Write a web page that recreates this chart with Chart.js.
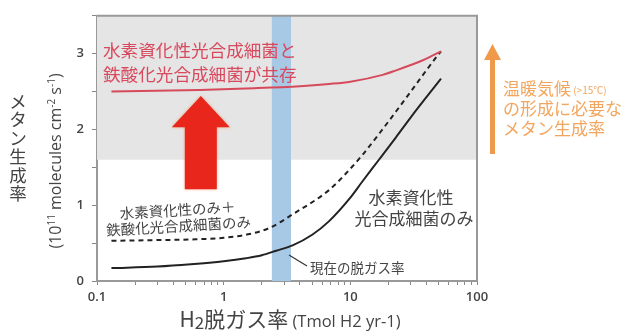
<!DOCTYPE html>
<html>
<head>
<meta charset="utf-8">
<script src="https://cdn.jsdelivr.net/npm/chart.js@4/dist/chart.umd.min.js"></script>
<style>
  html, body { margin: 0; padding: 0; background: #fff; }
  #wrap { width: 627px; height: 336px; }
</style>
</head>
<body>
<div id="wrap"><canvas id="c" width="627" height="336"></canvas></div>
<script>
// H2 outgassing rate (Tmol H2 / yr) vs. methane production rate (1e11 molecules cm^-2 s^-1)
const xTickValues = [0.1, 0.2, 0.3, 0.4, 0.5, 0.6, 0.7, 0.8, 0.9,
                     1, 2, 3, 4, 5, 6, 7, 8, 9,
                     10, 20, 30, 40, 50, 60, 70, 80, 90, 100];
const xTickLabels = ['0.1', '1', '10', '100'];

// H2-using photosynthetic bacteria only
const h2OnlyX = [0.13, 0.3, 0.55, 1.0, 1.5, 2.0, 2.6, 3.5, 5.0, 6.8, 10, 12.4, 17, 23, 30, 52];
const h2OnlyY = [0.17, 0.19, 0.22, 0.26, 0.30, 0.34, 0.40, 0.47, 0.61, 0.79, 1.10, 1.31, 1.61, 1.90, 2.16, 2.67];

// H2-using only + Fe-oxidizing only
const separateX = [0.13, 0.3, 0.6, 1.0, 1.6, 2.3, 3.5, 6.8, 9, 12.4, 17, 23, 30, 47, 52];
const separateY = [0.53, 0.54, 0.55, 0.57, 0.62, 0.70, 0.88, 1.20, 1.40, 1.66, 1.95, 2.24, 2.50, 2.94, 3.03];

// both groups coexisting
const coexistX = [0.13, 0.65, 1.5, 4, 6.8, 10, 18, 23, 30, 37, 44, 52];
const coexistY = [2.50, 2.52, 2.54, 2.57, 2.60, 2.63, 2.72, 2.78, 2.85, 2.91, 2.97, 3.03];

// present-day outgassing range and warm-climate threshold
const presentRange = [2.4, 3.4];
const warmLevel = 1.6;
const yMax = 3.5;

// big red arrow (x centre, base, head base, tip) in data units
const boostArrow = { x: 0.66, base: 1.21, headBase: 2.03, tip: 2.44 };

const toPoints = (xs, ys) => xs.map((x, i) => ({ x: x, y: ys[i] }));

const JP = '"Noto Sans CJK JP", "Noto Sans", sans-serif';
const LATIN = '"Open Sans", "Noto Sans", sans-serif';

const decorPlugin = {
  id: 'decor',
  beforeDatasetsDraw(chart) {
    const { ctx, chartArea: a, scales: { x, y } } = chart;
    ctx.save();
    // warm-climate band
    const yTop = y.getPixelForValue(yMax);
    const yWarm = y.getPixelForValue(warmLevel);
    ctx.fillStyle = '#e5e5e5';
    ctx.fillRect(a.left, yTop, a.right - a.left, yWarm - yTop);
    // present outgassing band
    const x0 = x.getPixelForValue(presentRange[0]);
    const x1 = x.getPixelForValue(presentRange[1]);
    ctx.fillStyle = '#a8c9e6';
    ctx.fillRect(x0, a.top, x1 - x0, a.bottom - a.top);
    ctx.restore();
  },
  afterDatasetsDraw(chart) {
    const { ctx, chartArea: a, scales: { x, y } } = chart;
    ctx.save();

    // red arrow
    const ax = x.getPixelForValue(boostArrow.x);
    const aBase = y.getPixelForValue(boostArrow.base);
    const aHead = y.getPixelForValue(boostArrow.headBase);
    const aTip = y.getPixelForValue(boostArrow.tip);
    ctx.fillStyle = '#e8261c';
    ctx.shadowColor = 'rgba(240,120,60,0.6)';
    ctx.shadowBlur = 3;
    ctx.beginPath();
    ctx.moveTo(ax - 16, aBase);
    ctx.lineTo(ax - 16, aHead);
    ctx.lineTo(ax - 29, aHead);
    ctx.lineTo(ax, aTip);
    ctx.lineTo(ax + 29, aHead);
    ctx.lineTo(ax + 16, aHead);
    ctx.lineTo(ax + 16, aBase);
    ctx.closePath();
    ctx.fill();
    ctx.shadowBlur = 0;

    // red caption
    ctx.fillStyle = '#d9495e';
    ctx.font = '17.6px ' + JP;
    ctx.textAlign = 'left';
    ctx.textBaseline = 'middle';
    ctx.fillText('水素資化性光合成細菌と', a.left + 6, 50);
    ctx.fillText('鉄酸化光合成細菌が共存', a.left + 6, 74);

    // dashed-curve caption (slightly tilted)
    ctx.fillStyle = '#444';
    ctx.font = '14.5px ' + JP;
    ctx.textAlign = 'center';
    ctx.save();
    ctx.translate(178, 218);
    ctx.rotate(-0.06);
    ctx.fillText('水素資化性のみ＋', 0, -8);
    ctx.fillText('鉄酸化光合成細菌のみ', 0, 8);
    ctx.restore();

    // solid-curve caption
    ctx.font = '17px ' + JP;
    ctx.fillText('水素資化性', 411, 198);
    ctx.fillText('光合成細菌のみ', 414, 219);

    // present-rate note with leader
    ctx.strokeStyle = '#333';
    ctx.lineWidth = 1.2;
    ctx.beginPath();
    ctx.moveTo(289, 255);
    ctx.lineTo(307, 266);
    ctx.stroke();
    ctx.font = '13.5px ' + JP;
    ctx.textAlign = 'left';
    ctx.fillText('現在の脱ガス率', 310, 268);

    // frame
    ctx.strokeStyle = '#999';
    ctx.lineWidth = 2;
    ctx.beginPath();
    ctx.moveTo(a.left, a.top);
    ctx.lineTo(a.right, a.top);
    ctx.lineTo(a.right, a.bottom);
    ctx.stroke();

    // orange arrow + note on the right
    ctx.fillStyle = '#ef9a4a';
    ctx.fillRect(490, 58, 5, 96);
    ctx.beginPath();
    ctx.moveTo(484, 60);
    ctx.lineTo(492.5, 44);
    ctx.lineTo(501, 60);
    ctx.closePath();
    ctx.fill();

    ctx.fillStyle = '#f2a55e';
    ctx.textAlign = 'left';
    ctx.font = '17px ' + JP;
    ctx.fillText('温暖気候', 503, 89);
    const w = ctx.measureText('温暖気候').width;
    ctx.font = '10px ' + JP;
    ctx.fillText(' (>15℃)', 503 + w, 90);
    ctx.font = '17px ' + JP;
    ctx.fillText('の形成に必要な', 503, 109);
    ctx.fillText('メタン生成率', 503, 129);

    // y-axis titles
    ctx.fillStyle = '#444';
    ctx.font = '17.5px ' + JP;
    ctx.textAlign = 'center';
    const jpTitle = 'メタン生成率';
    for (let i = 0; i < jpTitle.length; i++) {
      ctx.fillText(jpTitle[i], 18, 101 + i * 18.5);
    }

    const parts = [
      ['(10', false], ['11', true], [' molecules cm', false], ['-2', true],
      [' s', false], ['-1', true], [')', false]
    ];
    const fNorm = '16px ' + LATIN;
    const fSup = '10px ' + LATIN;
    let total = 0;
    parts.forEach(p => { ctx.font = p[1] ? fSup : fNorm; total += ctx.measureText(p[0]).width; });
    ctx.save();
    ctx.translate(56, 161);
    ctx.rotate(-Math.PI / 2);
    ctx.textAlign = 'left';
    ctx.textBaseline = 'alphabetic';
    let cx = -total / 2;
    parts.forEach(p => {
      ctx.font = p[1] ? fSup : fNorm;
      ctx.fillText(p[0], cx, p[1] ? -1 : 5);
      cx += ctx.measureText(p[0]).width;
    });
    ctx.restore();

    // x-axis title
    ctx.textBaseline = 'alphabetic';
    ctx.textAlign = 'left';
    const xParts = [
      ['H', '21px ' + JP, 0], ['2', '17px ' + JP, 2], ['脱ガス率', '21px ' + JP, 0],
      [' (Tmol H2 yr-1)', '16.5px ' + LATIN, 0]
    ];
    let tw = 0;
    xParts.forEach(p => { ctx.font = p[1]; tw += ctx.measureText(p[0]).width; });
    let tx = 290 - tw / 2;
    xParts.forEach(p => {
      ctx.font = p[1];
      ctx.fillText(p[0], tx, 327 + p[2]);
      tx += ctx.measureText(p[0]).width;
    });

    ctx.restore();
  }
};

new Chart(document.getElementById('c'), {
  type: 'line',
  data: {
    datasets: [
      {
        label: '水素資化性光合成細菌と鉄酸化光合成細菌が共存',
        data: toPoints(coexistX, coexistY),
        borderColor: '#d64a5c',
        borderWidth: 2,
        pointRadius: 0,
        cubicInterpolationMode: 'monotone'
      },
      {
        label: '水素資化性のみ＋鉄酸化光合成細菌のみ',
        data: toPoints(separateX, separateY),
        borderColor: '#222',
        borderWidth: 2,
        borderDash: [5, 4],
        pointRadius: 0,
        cubicInterpolationMode: 'monotone'
      },
      {
        label: '水素資化性光合成細菌のみ',
        data: toPoints(h2OnlyX, h2OnlyY),
        borderColor: '#222',
        borderWidth: 2,
        pointRadius: 0,
        cubicInterpolationMode: 'monotone'
      }
    ]
  },
  options: {
    responsive: false,
    animation: false,
    devicePixelRatio: 1,
    layout: { padding: { left: 0, right: 150, top: 10, bottom: 0 } },
    plugins: { legend: { display: false }, tooltip: { enabled: false } },
    scales: {
      x: {
        type: 'logarithmic',
        min: 0.1,
        max: 100,
        afterBuildTicks(scale) {
          scale.ticks = xTickValues.map(v => ({ value: v }));
        },
        afterFit(scale) { scale.height = 55; },
        ticks: {
          autoSkip: false,
          maxRotation: 0,
          padding: 4,
          color: '#444',
          font: { family: LATIN, size: 13, weight: '600' },
          callback(v) {
            const s = String(Number(v));
            return xTickLabels.includes(s) ? s : '';
          }
        },
        grid: { drawOnChartArea: false, drawTicks: true, tickLength: 4, color: '#888' },
        border: { color: '#999', width: 2 }
      },
      y: {
        min: 0,
        max: yMax,
        afterFit(scale) { scale.width = 97; },
        ticks: {
          stepSize: 0.5,
          padding: 8,
          color: '#444',
          font: { family: LATIN, size: 13, weight: '600' },
          callback(v) { return Number.isInteger(v) && v <= 3 ? String(v) : ''; }
        },
        grid: { drawOnChartArea: false, drawTicks: true, tickLength: 5, color: '#888' },
        border: { color: '#999', width: 2 }
      }
    }
  },
  plugins: [decorPlugin]
});
</script>
</body>
</html>
